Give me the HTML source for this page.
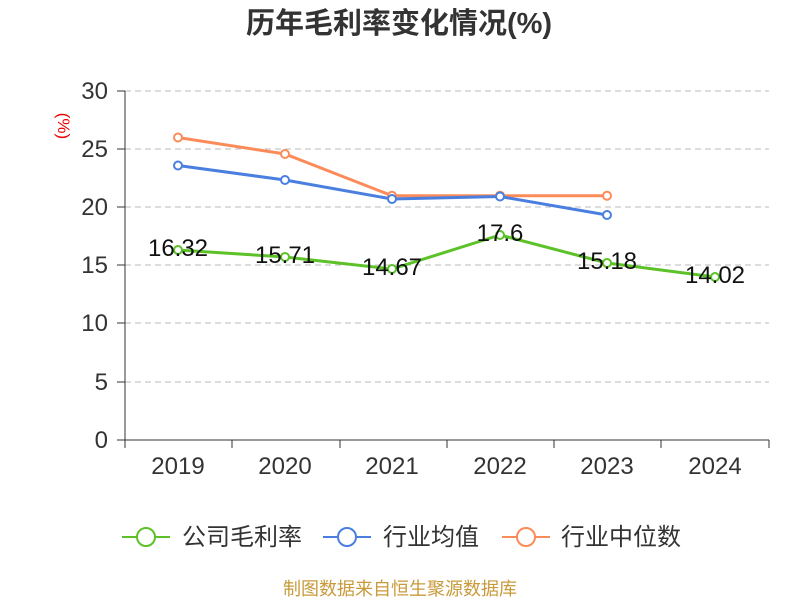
<!DOCTYPE html>
<html><head><meta charset="utf-8"><style>body{margin:0;background:#fff}</style></head><body>
<svg width="800" height="600" xmlns="http://www.w3.org/2000/svg" font-family="Liberation Sans, Noto Sans CJK SC, sans-serif">
<text x="399" y="33" text-anchor="middle" font-size="29" font-weight="bold" fill="#333">历年毛利率变化情况(%)</text>
<text x="58" y="126" text-anchor="middle" font-size="17" fill="#e00" transform="rotate(90 58 126)">(%)</text>
<g stroke="#bbb" stroke-dasharray="6,4" stroke-width="1">
<line x1="125" x2="769" y1="91" y2="91"/><line x1="125" x2="769" y1="149" y2="149"/><line x1="125" x2="769" y1="207" y2="207"/><line x1="125" x2="769" y1="265" y2="265"/><line x1="125" x2="769" y1="323" y2="323"/><line x1="125" x2="769" y1="382" y2="382"/>
</g>
<g stroke="#333" stroke-width="1">
<line x1="125" x2="125" y1="91" y2="440"/><line x1="125" x2="769" y1="440" y2="440"/>
<line x1="117" x2="125" y1="91" y2="91"/><line x1="117" x2="125" y1="149" y2="149"/><line x1="117" x2="125" y1="207" y2="207"/><line x1="117" x2="125" y1="265" y2="265"/><line x1="117" x2="125" y1="323" y2="323"/><line x1="117" x2="125" y1="382" y2="382"/><line x1="117" x2="125" y1="440" y2="440"/>
<line x1="125" x2="125" y1="440" y2="448"/><line x1="232" x2="232" y1="440" y2="448"/><line x1="340" x2="340" y1="440" y2="448"/><line x1="447" x2="447" y1="440" y2="448"/><line x1="554" x2="554" y1="440" y2="448"/><line x1="661" x2="661" y1="440" y2="448"/><line x1="769" x2="769" y1="440" y2="448"/>
</g>
<g font-size="24" fill="#333" text-anchor="end">
<text x="108" y="99">30</text><text x="108" y="157">25</text><text x="108" y="215">20</text><text x="108" y="273">15</text><text x="108" y="331">10</text><text x="108" y="390">5</text><text x="108" y="448">0</text>
</g>
<g font-size="24" fill="#333" text-anchor="middle">
<text x="178" y="474">2019</text><text x="285" y="474">2020</text><text x="392" y="474">2021</text><text x="500" y="474">2022</text><text x="607" y="474">2023</text><text x="715" y="474">2024</text>
</g>
<g fill="#fff" stroke-width="2">
<polyline points="178,137.5 285,154 392,195.7 500,195.7 607,195.7" fill="none" stroke="#fb8c5a" stroke-width="3"/>
<polyline points="178,165.5 285,180 392,199 500,196.5 607,215" fill="none" stroke="#4a7fe0" stroke-width="3"/>
<polyline points="178,250 285,257 392,269 500,235 607,263 715,277" fill="none" stroke="#5cc227" stroke-width="3"/>
<g stroke="#fb8c5a"><circle cx="178" cy="137.5" r="4"/><circle cx="285" cy="154" r="4"/><circle cx="392" cy="195.7" r="4"/><circle cx="500" cy="195.7" r="4"/><circle cx="607" cy="195.7" r="4"/></g>
<g stroke="#4a7fe0"><circle cx="178" cy="165.5" r="4"/><circle cx="285" cy="180" r="4"/><circle cx="392" cy="199" r="4"/><circle cx="500" cy="196.5" r="4"/><circle cx="607" cy="215" r="4"/></g>
<g stroke="#5cc227"><circle cx="178" cy="250" r="4"/><circle cx="285" cy="257" r="4"/><circle cx="392" cy="269" r="4"/><circle cx="500" cy="235" r="4"/><circle cx="607" cy="263" r="4"/><circle cx="715" cy="277" r="4"/></g>
</g>
<g font-size="24" fill="#111" text-anchor="middle">
<text x="178" y="256">16.32</text><text x="285" y="263">15.71</text><text x="392" y="275">14.67</text><text x="500" y="241">17.6</text><text x="607" y="269">15.18</text><text x="715" y="283">14.02</text>
</g>
<g stroke-width="2" fill="#fff">
<line x1="122" x2="170" y1="537" y2="537" stroke="#5cc227"/><circle cx="146" cy="537" r="9" stroke="#5cc227"/>
<line x1="323" x2="371" y1="537" y2="537" stroke="#4a7fe0"/><circle cx="347" cy="537" r="9" stroke="#4a7fe0"/>
<line x1="502" x2="550" y1="537" y2="537" stroke="#fb8c5a"/><circle cx="526" cy="537" r="9" stroke="#fb8c5a"/>
</g>
<g font-size="24" fill="#333">
<text x="182" y="545">公司毛利率</text><text x="383" y="545">行业均值</text><text x="561" y="545">行业中位数</text>
</g>
<text x="400" y="595" text-anchor="middle" font-size="18" fill="#c89a3a">制图数据来自恒生聚源数据库</text>
</svg>
</body></html>
